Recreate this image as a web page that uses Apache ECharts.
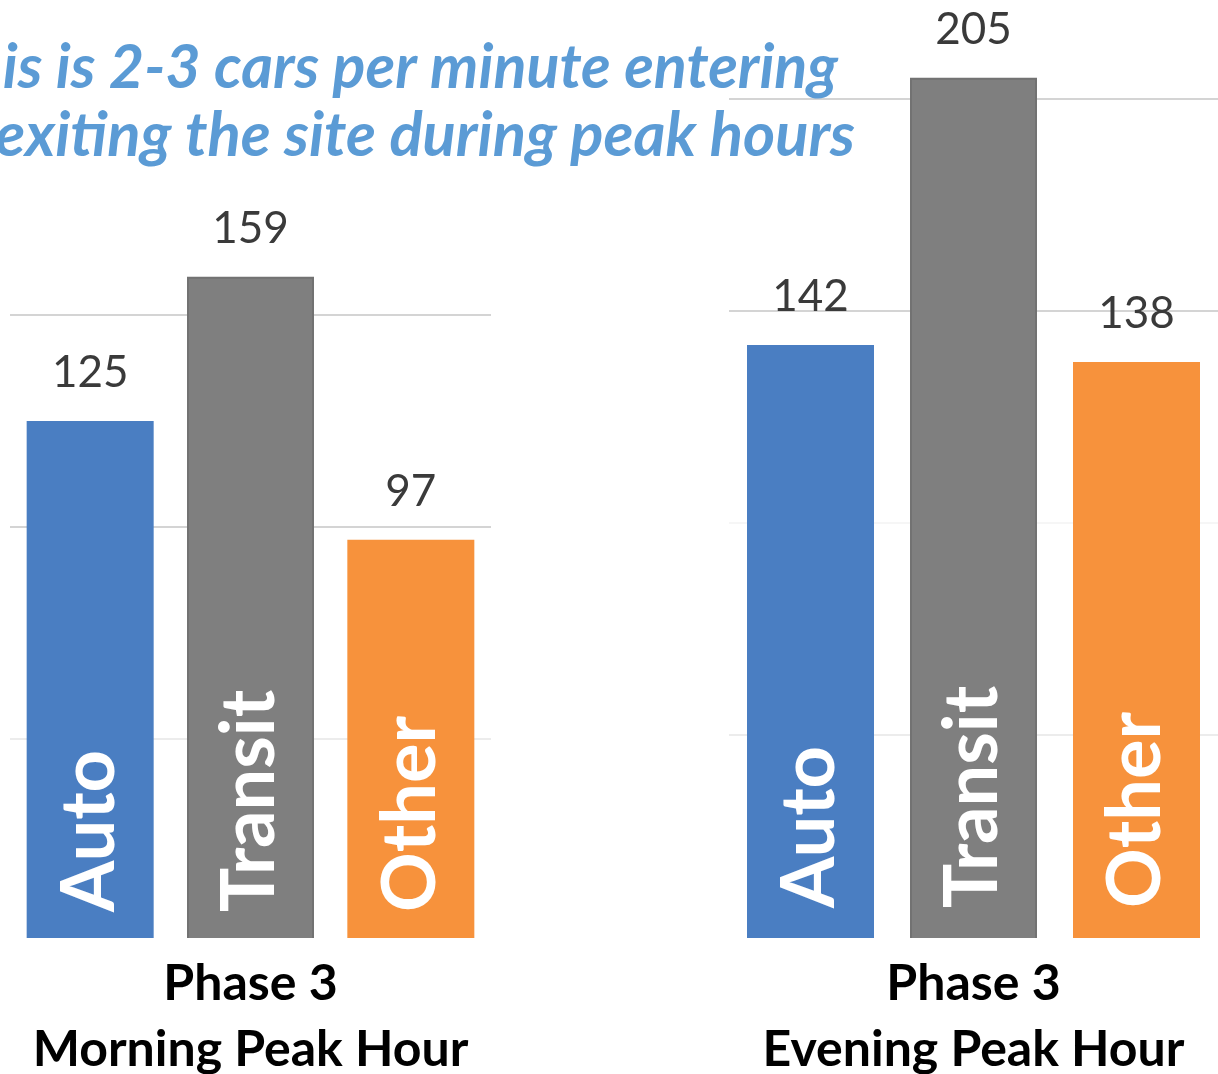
<!DOCTYPE html>
<html>
<head>
<meta charset="utf-8">
<script src="https://cdn.jsdelivr.net/npm/echarts@6/dist/echarts.min.js"></script>
<style>
  html, body { margin: 0; padding: 0; background: #ffffff; }
  #chart { width: 1218px; height: 1074px; }
</style>
</head>
<body>
<div id="chart"></div>
<script>
// Trips per travel mode, Phase 3 peak hours
const modes = ['Auto', 'Transit', 'Other'];
const morningTrips = [125, 159, 97];
const eveningTrips = [142, 205, 138];
const periodNames = ['Phase 3\nMorning Peak Hour', 'Phase 3\nEvening Peak Hour'];
const headline = ['This is 2-3 cars per minute entering', 'exiting the site during peak hours'];

const modeColors = ['#4a7ec2', '#7f7f7f', '#f7923c'];
const modeBorders = ['#4a7ec2', '#727272', '#f7923c'];
const FONT = 'Lato, Carlito, "Open Sans", sans-serif';

const chart = echarts.init(document.getElementById('chart'), null, { renderer: 'canvas' });

function valueAxis(gridIndex, max, lineColors) {
  return {
    type: 'value', gridIndex, min: 0, max, interval: 50,
    axisLine: { show: false }, axisTick: { show: false }, axisLabel: { show: false },
    splitLine: { show: true, lineStyle: { color: lineColors, width: 2 } }
  };
}

function modeAxis(gridIndex, name, nameGap) {
  return {
    type: 'category', gridIndex, data: modes, z: 10,
    axisLine: { show: false }, axisTick: { show: false },
    axisLabel: {
      inside: true, rotate: 90, interval: 0, margin: 39,
      color: '#ffffff', fontSize: 74, fontWeight: 'bold', fontFamily: FONT
    },
    name, nameLocation: 'middle', nameGap, nameMoveOverlap: false,
    nameTextStyle: { color: '#000000', fontSize: 50, fontWeight: 'bold', fontFamily: FONT, lineHeight: 66 }
  };
}

function tripSeries(index, values) {
  return {
    type: 'bar', xAxisIndex: index, yAxisIndex: index, clip: false,
    barWidth: 127,
    data: values.map((v, i) => ({
      value: v,
      itemStyle: { color: modeColors[i], borderColor: modeBorders[i], borderWidth: 2 }
    })),
    label: {
      show: true, position: 'top', distance: 26,
      color: '#3a3a3a', fontSize: 44, fontFamily: FONT
    },
    emphasis: { disabled: true },
    animation: false
  };
}

chart.setOption({
  animation: false,
  grid: [
    { left: 10, width: 481, top: 315, height: 636, outerBoundsMode: 'none', containLabel: false },
    { left: 729, right: 0, top: 99, height: 848, outerBoundsMode: 'none', containLabel: false }
  ],
  xAxis: [modeAxis(0, periodNames[0], 0), modeAxis(1, periodNames[1], 4)],
  yAxis: [
    valueAxis(0, 150, ['rgba(0,0,0,0)', '#ececec', '#d4d4d4', '#d4d4d4']),
    valueAxis(1, 200, ['rgba(0,0,0,0)', '#ececec', '#f6f6f6', '#d4d4d4', '#d4d4d4'])
  ],
  series: [tripSeries(0, morningTrips), tripSeries(1, eveningTrips)],
  graphic: [
    // white strip under the bars, above the category names
    { type: 'rect', z: 100, shape: { x: 0, y: 938, width: 1218, height: 16 }, style: { fill: '#ffffff' } },
    { type: 'text', z: 110, style: { x: 838, y: 68, text: headline[0], align: 'right', verticalAlign: 'middle',
        fill: '#5b9bd5', font: 'italic bold 61px ' + FONT } },
    { type: 'text', z: 110, style: { x: 855, y: 136, text: headline[1], align: 'right', verticalAlign: 'middle',
        fill: '#5b9bd5', font: 'italic bold 61.5px ' + FONT } }
  ]
});
</script>
</body>
</html>
